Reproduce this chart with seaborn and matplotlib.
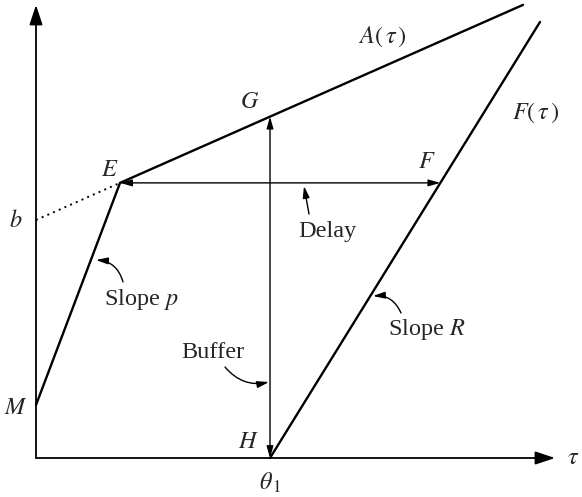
import matplotlib
matplotlib.use("Agg")
import matplotlib.pyplot as plt
import seaborn as sns
import pandas as pd

# Leaky-bucket arrival curve A(tau) and service curve F(tau), arbitrary units
M = 53.0           # initial burst at tau = 0
p = 2.643          # peak rate (slope of first segment)
b = 238.0          # bucket depth: intercept of A(tau)
r = 0.4417         # sustained rate: slope of A(tau)
R = 1.615          # service rate: slope of F(tau)
theta1 = 234.0     # start of service
tau_end_A = 487.0  # last tau drawn for A(tau)
tau_end_F = 504.0  # last tau drawn for F(tau)
tau_axis = 519.0   # length of the tau axis
amount_axis = 453.0

# Derived points of the construction
tE = (b - M) / (p - r)
yE = M + p * tE
tF = theta1 + yE / R
yG = b + r * theta1

sns.set_theme(style="white")
plt.rcParams["font.family"] = ["Liberation Serif", "DejaVu Serif"]
plt.rcParams["mathtext.fontset"] = "stix"

fig = plt.figure(figsize=(5.82, 4.97), dpi=100)
ax = fig.add_axes([0, 0, 1, 1])
ax.set_xlim(-36, 546)
ax.set_ylim(-39, 458)
ax.axis("off")

black = "black"
seg = pd.DataFrame({
    "tau": [0, tE, tE, tau_end_A, theta1, tau_end_F],
    "amount": [M, yE, yE, b + r * tau_end_A, 0, R * (tau_end_F - theta1)],
    "curve": ["peak", "peak", "A", "A", "F", "F"],
})
for name, part in seg.groupby("curve", sort=False):
    sns.lineplot(data=part, x="tau", y="amount", ax=ax, color=black,
                 lw=1.7, sort=False, estimator=None)

# dotted extension of A(tau) back to its intercept b
sns.lineplot(x=[0, tE], y=[b, yE], ax=ax, color=black, lw=1.4,
             linestyle=(0, (1, 2.2)), sort=False, estimator=None)

# axes with arrowheads
axis_arrow = dict(arrowstyle="-|>,head_length=0.6,head_width=0.2",
                  mutation_scale=20, lw=1.3, color=black,
                  shrinkA=0, shrinkB=0)
ax.annotate("", xy=(0, amount_axis), xytext=(0, 0), arrowprops=axis_arrow)
ax.annotate("", xy=(tau_axis, 0), xytext=(0, 0), arrowprops=axis_arrow)

# delay (horizontal) and buffer (vertical) dimension arrows
dim_arrow = dict(arrowstyle="<|-|>,head_length=0.35,head_width=0.1",
                 mutation_scale=20, lw=1.0, color=black,
                 shrinkA=0, shrinkB=0)
ax.annotate("", xy=(tF, yE), xytext=(tE, yE), arrowprops=dim_arrow)
ax.annotate("", xy=(theta1, yG), xytext=(theta1, 0), arrowprops=dim_arrow)

fs = 17.5
ptr = dict(arrowstyle="-|>,head_length=0.35,head_width=0.1",
           mutation_scale=20, lw=1.0, color=black, shrinkA=0, shrinkB=0)

# pointer annotations
ax.annotate("", xy=(60, 198), xytext=(87, 176),
            arrowprops=dict(ptr, connectionstyle="arc3,rad=0.35"))
ax.text(105, 159, "Slope $p$", fontsize=fs, ha="center", va="center")

ax.annotate("", xy=(268, 272), xytext=(273, 244), arrowprops=ptr)
ax.text(291, 226, "Delay", fontsize=fs, ha="center", va="center")

ax.annotate("", xy=(233, 76), xytext=(189, 91),
            arrowprops=dict(ptr, connectionstyle="arc3,rad=0.3"))
ax.text(177, 105, "Buffer", fontsize=fs, ha="center", va="center")

ax.annotate("", xy=(337, 162), xytext=(365, 145),
            arrowprops=dict(ptr, connectionstyle="arc3,rad=0.35"))
ax.text(391, 128, "Slope $R$", fontsize=fs, ha="center", va="center")

# point and curve labels
labels = [
    (74, 288, "$E$"), (214, 356, "$G$"), (391, 295, "$F$"),
    (212, 16, "$H$"), (-20, 237, "$b$"), (-20, 50, "$M$"),
    (234, -25, r"$\theta_{\,1}$"), (537, 0, r"$\tau$"),
    (346, 421, r"$A(\,\tau\,)$"), (500, 345, r"$F(\,\tau\,)$"),
]
for x, y, s in labels:
    ax.text(x, y, s, fontsize=fs, ha="center", va="center")

fig.savefig("out.png", dpi=100)
